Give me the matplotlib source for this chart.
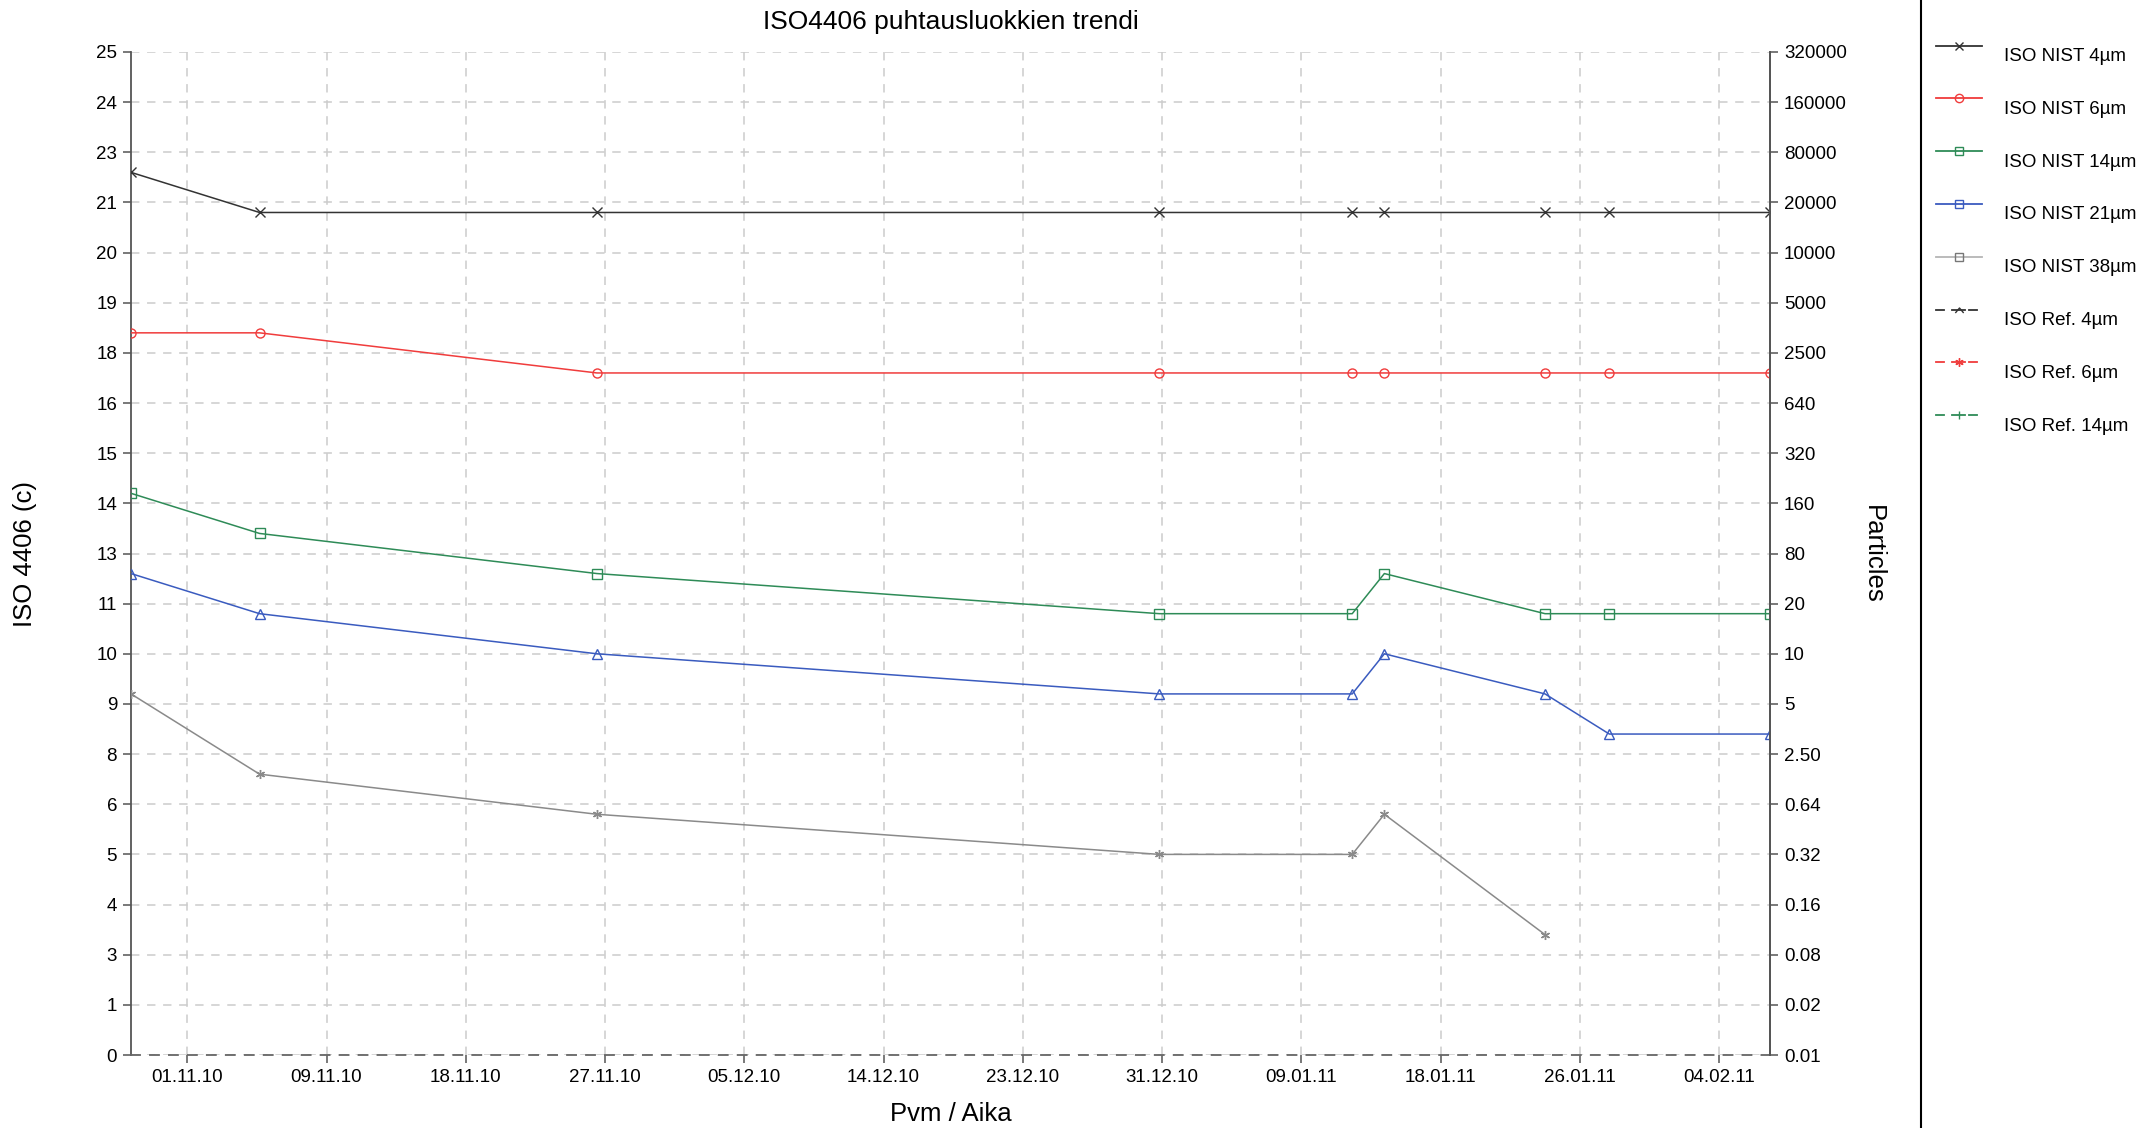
import numpy as np
import pandas as pd
import matplotlib as mpl
mpl.use('Agg')
import matplotlib.pyplot as plt
import matplotlib.dates as mdates

plt.rcParams['font.family'] = ['Liberation Sans', 'DejaVu Sans']

# measurement data
dates = pd.to_datetime(['2010-10-28 12:00', '2010-11-05 12:00', '2010-11-26 12:00',
                        '2010-12-31 12:00', '2011-01-12 12:00', '2011-01-14 12:00',
                        '2011-01-24 12:00', '2011-01-28 12:00', '2011-02-07 12:00'])
iso_4um = [22, 21, 21, 21, 21, 21, 21, 21, 21]
iso_6um = [18, 18, 17, 17, 17, 17, 17, 17, 17]
iso_14um = [14, 13, 12, 11, 11, 12, 11, 11, 11]
iso_21um = [12, 11, 10, 9, 9, 10, 9, 8, 8]
iso_38um = [9, 7, 6, 5, 5, 6, 3, np.nan, np.nan]

# reference series have no values in this period
ref_4um = []
ref_6um = []
ref_14um = []

# axis ticks
x_tick_start = '2010-11-01'
x_tick_count = 12
x_tick_step = '208h'
y_ticks = np.arange(0, 25.01, 1.25)
particle_labels = ['0.01', '0.02', '0.08', '0.16', '0.32', '0.64', '2.50', '5', '10', '20',
                   '80', '160', '320', '640', '2500', '5000', '10000', '20000', '80000',
                   '160000', '320000']

c_black = '#333333'
c_red = '#f03c3c'
c_green = '#2e8b57'
c_blue = '#3a5bbf'
c_gray = '#8a8a8a'
c_axis = '#555555'

fig = plt.figure(figsize=(21.56, 11.28), dpi=100)
ax = fig.add_axes([131 / 2156, 73 / 1128, (1770 - 131) / 2156, (1055 - 52) / 1128])

series = [
    (iso_4um, c_black, 'x', 'ISO NIST 4µm'),
    (iso_6um, c_red, 'o', 'ISO NIST 6µm'),
    (iso_14um, c_green, 's', 'ISO NIST 14µm'),
    (iso_21um, c_blue, '^', 'ISO NIST 21µm'),
    (iso_38um, c_gray, (6, 2, 0), 'ISO NIST 38µm'),
]
for vals, col, mk, lab in series:
    ax.plot(dates, vals, color=col, lw=1.1, marker=mk, ms=6.5, mfc='none',
            mec=col, mew=1.0, label=lab, zorder=3)

refs = [(ref_4um, c_black), (ref_6um, c_red), (ref_14um, c_green)]
for vals, col in refs:
    ax.plot(dates[:len(vals)], vals, color=col, lw=1.1, ls='--')

ax.set_xlim(dates[0], dates[-1])
ax.set_ylim(0, 25)

xt = pd.date_range(x_tick_start, periods=x_tick_count, freq=x_tick_step)
ax.set_xticks(xt)
ax.xaxis.set_major_formatter(mdates.DateFormatter('%d.%m.%y'))
ax.set_yticks(y_ticks)
ax.set_yticklabels([str(int(np.floor(v + 0.5))) for v in y_ticks])

ax.grid(True, color='#cccccc', ls=(0, (5.5, 5)), lw=1.1)
ax.set_axisbelow(True)
ax.tick_params(axis='both', labelsize=13.5, length=6, width=1.1, color=c_axis, pad=4)

ax.spines['top'].set_visible(False)
for s in ['left', 'right']:
    ax.spines[s].set_color(c_axis)
    ax.spines[s].set_linewidth(1.3)
ax.spines['bottom'].set_color('#666666')
ax.spines['bottom'].set_linestyle((0, (5, 5.5)))
ax.spines['bottom'].set_linewidth(1.3)

ax2 = ax.twinx()
ax2.set_ylim(0, 25)
ax2.set_yticks(y_ticks)
ax2.set_yticklabels(particle_labels)
ax2.tick_params(axis='y', labelsize=13.5, length=6, width=1.1, color=c_axis, pad=4)
for s in ['top', 'left', 'bottom']:
    ax2.spines[s].set_visible(False)
ax2.spines['right'].set_color(c_axis)
ax2.spines['right'].set_linewidth(1.3)

fig.text(951 / 2156, 1 - 22 / 1128, 'ISO4406 puhtausluokkien trendi', ha='center', va='center',
         fontsize=19)
fig.text(25 / 2156, 1 - 554 / 1128, 'ISO 4406 (c)', rotation=90, ha='center', va='center',
         fontsize=18.5)
fig.text(1873 / 2156, 1 - 554 / 1128, 'Particles', rotation=270, ha='center', va='center',
         fontsize=18.5)
fig.text(951 / 2156, 1 - 1114 / 1128, 'Pvm / Aika', ha='center', va='center', fontsize=18.5)

# legend panel on the right
lg = fig.add_axes([1921 / 2156, 0, 1 - 1921 / 2156, 1])
lg.set_xlim(1921, 2156)
lg.set_ylim(1128, 0)
lg.set_xticks([])
lg.set_yticks([])
for s in ['top', 'right', 'bottom']:
    lg.spines[s].set_visible(False)
lg.spines['left'].set_color('black')
lg.spines['left'].set_linewidth(1.5)

legend_items = [
    (c_black, '-', 'x', 'ISO NIST 4µm'),
    (c_red, '-', 'o', 'ISO NIST 6µm'),
    (c_green, '-', 's', 'ISO NIST 14µm'),
    (c_blue, '-', 's', 'ISO NIST 21µm'),
    ('#b5b5b5', '-', 's', 'ISO NIST 38µm'),
    (c_black, '--', [(-1, -0.6), (0, 0.6), (1, -0.6)], 'ISO Ref. 4µm'),
    (c_red, '--', (6, 2, 0), 'ISO Ref. 6µm'),
    (c_green, '--', '|', 'ISO Ref. 14µm'),
]
for i, (col, ls, mk, lab) in enumerate(legend_items):
    y = 45.5 + 52.8 * i
    mec = '#777777' if lab == 'ISO NIST 38µm' else col
    if ls == '-':
        lg.plot([1936, 1982], [y, y], color=col, lw=1.3)
    else:
        for x0, x1 in [(1936, 1944), (1952, 1965), (1969, 1977)]:
            lg.plot([x0, x1], [y, y], color=col, lw=1.3)
    lg.plot([1958.5], [y], marker=mk, ms=6, mfc='none', mec=mec, mew=1.0, ls='none')
    lg.text(2004, y + 11, lab, ha='left', va='center', fontsize=13.5)

fig.savefig('out.png', dpi=100)
